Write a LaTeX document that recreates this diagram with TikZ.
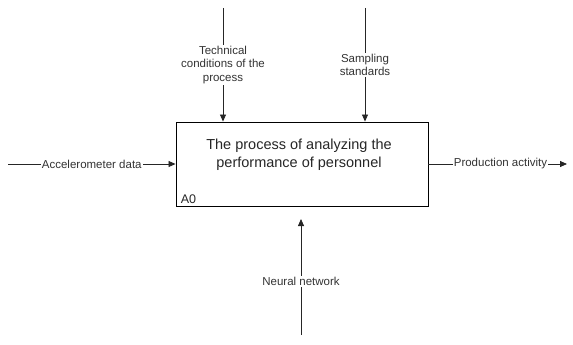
\documentclass[tikz,border=0pt]{standalone}
\usepackage{fontspec}
\setmainfont{Liberation Sans}
\usetikzlibrary{arrows.meta, positioning, calc}

\begin{document}
\begin{tikzpicture}[x=1pt, y=-1pt,
            proc/.style={draw=black, line width=0.9pt, minimum width=252pt, minimum height=84pt, inner sep=0pt},
            ttl/.style={align=center, font=\fontsize{14.5}{17.5}\selectfont, text=black!85},
            code/.style={font=\fontsize{12.5}{14}\selectfont, inner xsep=5pt, inner ysep=3pt, text=black!85},
            lbl/.style={fill=white, align=center, inner sep=1pt, font=\fontsize{11.5}{13.5}\selectfont, text=black!80},
            arr/.style={draw=black!85, line width=0.8pt, -{Triangle[length=7pt, width=6pt]}}]
            \useasboundingbox (0,0) rectangle (573,345);
            % activity box
            \node[proc] (box) at (302,164) {};
            \node[ttl] (name) at (299,155) {The process of analyzing the\\performance of personnel};
            \node[code, anchor=south west] (a0) at (box.south west) {A0};
            % free ends of the arrows
            \coordinate (ctl1) at (223,8);
            \coordinate (ctl2) at (365,8);
            \coordinate (inp) at (8,164);
            \coordinate (outp) at (567,164);
            \coordinate (mech) at (301,335);
            \coordinate (mechtip) at (301,219);
            % controls
            \draw[arr] (ctl1) -- node[lbl] (tcp) {Technical\\conditions of the\\process} (ctl1 |- box.north);
            \draw[arr] (ctl2) -- node[lbl] (sst) {Sampling\\standards} (ctl2 |- box.north);
            % input / output
            \draw[arr] (inp) -- node[lbl] (acc) {Accelerometer data} (inp -| box.west);
            \draw[arr] (box.east |- outp) -- node[lbl, pos=0.52] (pra) {Production activity} (outp);
            % mechanism
            \draw[arr] (mech) -- node[lbl, pos=0.46] (nn) {Neural network} (mechtip);
        \end{tikzpicture}
\end{document}
